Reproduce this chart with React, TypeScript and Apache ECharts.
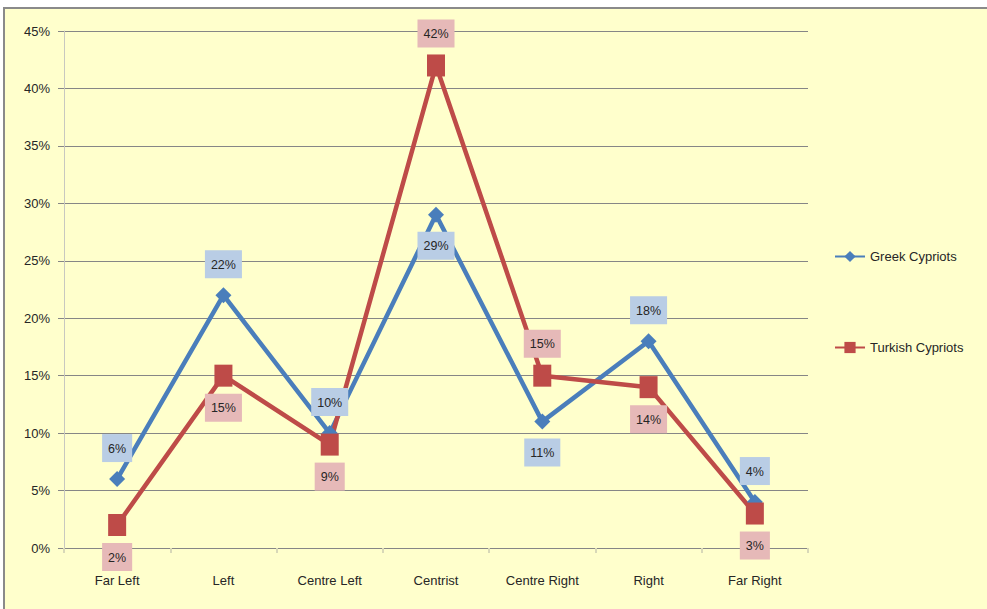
import React, { useEffect, useRef } from "react";
import * as echarts from "echarts";

const categories = ["Far Left", "Left", "Centre Left", "Centrist", "Centre Right", "Right", "Far Right"];
const greekValues = [6, 22, 10, 29, 11, 18, 4];
const turkishValues = [2, 15, 9, 42, 15, 14, 3];
const greekLabelPos = ["top", "top", "top", "bottom", "bottom", "top", "top"];
const turkishLabelPos = ["bottom", "bottom", "bottom", "top", "top", "bottom", "bottom"];

const FONT = "'Liberation Sans', Arial, sans-serif";

export default function App() {
  const ref = useRef<HTMLDivElement>(null);
  useEffect(() => {
    if (!ref.current) return;
    const chart = echarts.init(ref.current, undefined, { renderer: "svg" });
    const mkData = (vals: number[], pos: string[]) =>
      vals.map((v, i) => ({ value: v, label: { position: pos[i] } }));
    chart.setOption({
      animation: false,
      backgroundColor: "#ffffff",
      textStyle: { fontFamily: FONT },
      graphic: [
        {
          type: "rect",
          z: -10,
          silent: true,
          shape: { x: 4, y: 8, width: 1000, height: 700 },
          style: { fill: "#FFFFCC", stroke: "#8a8a8a", lineWidth: 2 },
        },
      ],
      grid: { left: 64, right: 179, top: 31, bottom: 61, containLabel: false },
      legend: {
        orient: "vertical",
        left: 829,
        top: 245,
        itemGap: 78,
        itemWidth: 30,
        itemHeight: 14,
        textStyle: { fontFamily: FONT, fontSize: 13, color: "#262626" },
        data: ["Greek Cypriots", "Turkish Cypriots"],
      },
      xAxis: {
        type: "category",
        data: categories,
        boundaryGap: true,
        axisLine: { show: true, lineStyle: { color: "#868686", width: 1 } },
        axisTick: { show: true, length: 5, lineStyle: { color: "#d8d8b8", width: 2 } },
        axisLabel: { fontFamily: FONT, fontSize: 13, color: "#262626", margin: 26 },
      },
      yAxis: {
        type: "value",
        min: 0,
        max: 45,
        interval: 5,
        axisLine: { show: true, lineStyle: { color: "#c8c8c0", width: 1 } },
        axisTick: { show: true, length: 6, lineStyle: { color: "#868686" } },
        splitLine: { show: true, lineStyle: { color: "#868686", width: 1 } },
        axisLabel: { fontFamily: FONT, fontSize: 13, color: "#262626", margin: 14, formatter: "{value}%" },
      },
      series: [
        {
          name: "Greek Cypriots",
          type: "line",
          data: mkData(greekValues, greekLabelPos),
          symbol: "diamond",
          symbolSize: [16, 16],
          color: "#4A7EBB",
          lineStyle: { width: 4.5, color: "#4A7EBB" },
          itemStyle: { color: "#4A7EBB" },
          label: {
            show: true,
            formatter: "{c}%",
            fontFamily: FONT,
            fontSize: 12.5,
            color: "#262626",
            backgroundColor: "#B9CDE5",
            padding: [8, 6, 7, 6],
            distance: 9,
          },
        },
        {
          name: "Turkish Cypriots",
          type: "line",
          data: mkData(turkishValues, turkishLabelPos),
          symbol: "rect",
          symbolSize: [18, 22],
          color: "#BE4B48",
          lineStyle: { width: 4.5, color: "#BE4B48" },
          itemStyle: { color: "#BE4B48" },
          label: {
            show: true,
            formatter: "{c}%",
            fontFamily: FONT,
            fontSize: 12.5,
            color: "#262626",
            backgroundColor: "#E6B9B8",
            padding: [8, 6, 7, 6],
            distance: 7,
          },
        },
      ],
    });
    return () => chart.dispose();
  }, []);
  return (
    <div
      ref={ref}
      style={{ position: "absolute", left: 0, top: 0, width: 987, height: 609 }}
    />
  );
}
